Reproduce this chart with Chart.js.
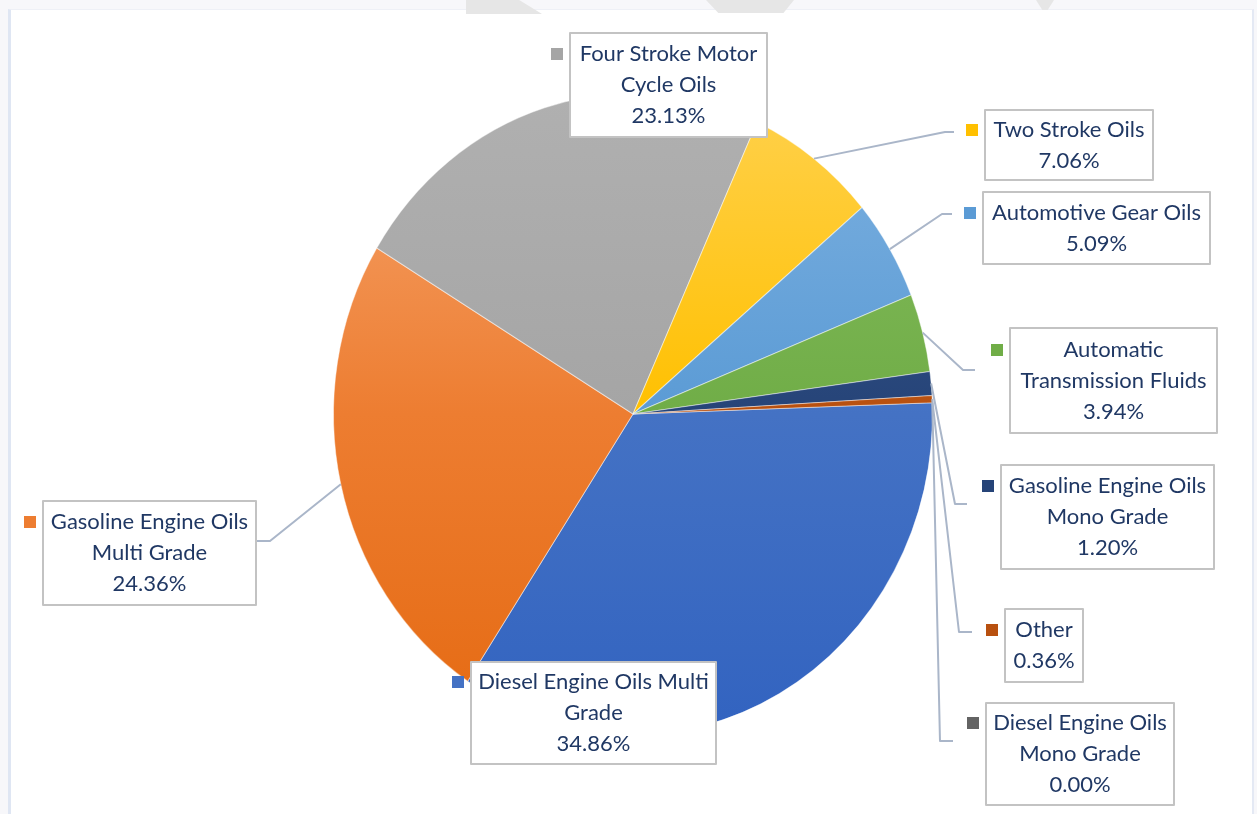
<!DOCTYPE html>
<html>
<head>
<meta charset="utf-8">
<title>Lubricant Market Share by Product</title>
<script src="https://cdn.jsdelivr.net/npm/chart.js@4.4.1/dist/chart.umd.min.js"></script>
<style>
  html, body { margin: 0; padding: 0; background: #f7f7fa; overflow: hidden; }
  #wrap { position: relative; width: 1257px; height: 814px; }
  #panel {
    position: absolute; left: 8px; top: 9px; width: 1246px; height: 805px;
    background: #fff;
    border-top: 1px solid #eef0f6;
    border-left: 3px solid #dfe6f3;
    border-right: 2px solid #e4e9f4;
    box-sizing: border-box;
  }
  .mark { position: absolute; top: 0; background: #e6e6e6; }
  canvas { position: absolute; left: 0; top: 0; }
</style>
</head>
<body>
<div id="wrap">
  <div id="panel"></div>
  <div class="mark" style="left:466px;width:76px;height:14px;clip-path:polygon(0 0,70% 0,100% 100%,0 100%);"></div>
  <div class="mark" style="left:706px;width:88px;height:13px;clip-path:polygon(0 0,100% 0,88% 100%,14% 100%);"></div>
  <div class="mark" style="left:1036px;width:18px;height:10px;clip-path:polygon(0 0,100% 0,65% 100%,35% 100%);"></div>
  <canvas id="pieChart" width="1257" height="814"></canvas>
</div>
<script>
// product share of lubricant volume, clockwise from the 3 o'clock edge
const categories = [
  'Diesel Engine Oils Multi Grade',
  'Gasoline Engine Oils Multi Grade',
  'Four Stroke Motor Cycle Oils',
  'Two Stroke Oils',
  'Automotive Gear Oils',
  'Automatic Transmission Fluids',
  'Gasoline Engine Oils Mono Grade',
  'Other',
  'Diesel Engine Oils Mono Grade'
];
const shares = [34.86, 24.36, 23.13, 7.06, 5.09, 3.94, 1.20, 0.36, 0.00];

// how each category name is broken inside its label box
const labelLines = [
  ['Diesel Engine Oils Multi', 'Grade'],
  ['Gasoline Engine Oils', 'Multi Grade'],
  ['Four Stroke Motor', 'Cycle Oils'],
  ['Two Stroke Oils'],
  ['Automotive Gear Oils'],
  ['Automatic', 'Transmission Fluids'],
  ['Gasoline Engine Oils', 'Mono Grade'],
  ['Other'],
  ['Diesel Engine Oils', 'Mono Grade']
];

const baseColors  = ['#4472c4', '#ed7d31', '#a5a5a5', '#ffc000', '#5b9bd5', '#70ad47', '#264478', '#b8500f', '#636363'];
const topColors   = ['#6a8fd6', '#f6a56e', '#b0b0b0', '#ffd14d', '#7db1e0', '#86bd5f', '#3a5a92', '#cc6a2a', '#7a7a7a'];
const lowColors   = ['#3263c0', '#e56a12', '#999999', '#f7b900', '#4a8ccc', '#63a03b', '#1f3a69', '#a3450c', '#555555'];

// the pie is drawn slightly taller than wide
const stretchY = 1.07;

// label box placement: [x, y, w, h], optional elbow and end of the leader line
const labelBoxes = [
  { box: [471, 662, 245, 102] },
  { box: [43, 501, 213, 104], elbow: [270, 541], end: [257, 541] },
  { box: [570, 33, 197, 104] },
  { box: [985, 110, 168, 70], elbow: [945, 132], end: [954, 132] },
  { box: [983, 192, 227, 72], elbow: [942, 214], end: [952, 214] },
  { box: [1010, 328, 207, 105], elbow: [963, 370], end: [975, 370] },
  { box: [1001, 465, 213, 104], elbow: [955, 504], end: [967, 504] },
  { box: [1005, 609, 78, 73], elbow: [959, 632], end: [972, 632] },
  { box: [986, 703, 188, 102], elbow: [940, 741], end: [953, 741] }
];

function sliceFill(ctx) {
  const i = ctx.dataIndex;
  const chart = ctx.chart;
  const area = chart.chartArea;
  if (!area) return baseColors[i];
  const g = chart.ctx.createLinearGradient(0, area.top, 0, area.bottom);
  g.addColorStop(0, topColors[i]);
  g.addColorStop(0.5, baseColors[i]);
  g.addColorStop(1, lowColors[i]);
  return g;
}

function pieCenter(chart) {
  const a = chart.chartArea;
  return [(a.left + a.right) / 2, (a.top + a.bottom) / 2];
}

// callout boxes with colour key and leader lines
const calloutPlugin = {
  id: 'callouts',
  beforeDatasetsDraw(chart) {
    const [cx, cy] = pieCenter(chart);
    const c = chart.ctx;
    c.save();
    c.translate(cx, cy);
    c.scale(1, stretchY);
    c.translate(-cx, -cy);
  },
  afterDatasetsDraw(chart) {
    const c = chart.ctx;
    c.restore();
    const arcs = chart.getDatasetMeta(0).data;
    const ds = chart.data.datasets[0];

    c.save();
    c.strokeStyle = '#aab6c9';
    c.lineWidth = 2;
    c.lineJoin = 'round';
    arcs.forEach((arc, i) => {
      const cfg = labelBoxes[i];
      if (!cfg.elbow) return;
      const p = arc.getProps(['x', 'y', 'startAngle', 'endAngle', 'outerRadius'], true);
      const mid = (p.startAngle + p.endAngle) / 2;
      const ax = p.x + Math.cos(mid) * p.outerRadius;
      const ay = p.y + Math.sin(mid) * p.outerRadius * stretchY;
      c.beginPath();
      c.moveTo(ax, ay);
      c.lineTo(cfg.elbow[0], cfg.elbow[1]);
      c.lineTo(cfg.end[0], cfg.end[1]);
      c.stroke();
    });

    c.font = '22px Lato';
    c.textAlign = 'center';
    c.textBaseline = 'middle';
    const lh = 31;
    arcs.forEach((arc, i) => {
      const [x, y, w, h] = labelBoxes[i].box;
      const lines = labelLines[i].concat([ds.data[i].toFixed(2) + '%']);
      c.fillStyle = '#ffffff';
      c.fillRect(x, y, w, h);
      c.strokeStyle = '#c3c3c3';
      c.lineWidth = 2;
      c.strokeRect(x, y, w, h);
      const cy = y + h / 2;
      const first = cy - (lines.length - 1) * lh / 2;
      c.fillStyle = baseColors[i];
      c.fillRect(x - 19, Math.round(first - 6), 12, 12);
      c.fillStyle = '#203864';
      lines.forEach((t, k) => c.fillText(t, x + w / 2, first + k * lh));
    });
    c.restore();
  }
};

new Chart(document.getElementById('pieChart').getContext('2d'), {
  type: 'pie',
  data: {
    labels: categories,
    datasets: [{
      data: shares,
      backgroundColor: sliceFill,
      borderColor: 'rgba(255,255,255,0.45)',
      borderWidth: 1
    }]
  },
  options: {
    responsive: false,
    animation: false,
    rotation: 88,
    layout: { padding: { left: 333, right: 324, top: 114, bottom: 100 } },
    plugins: {
      legend: { display: false },
      tooltip: { enabled: false }
    }
  },
  plugins: [calloutPlugin]
});
</script>
</body>
</html>
